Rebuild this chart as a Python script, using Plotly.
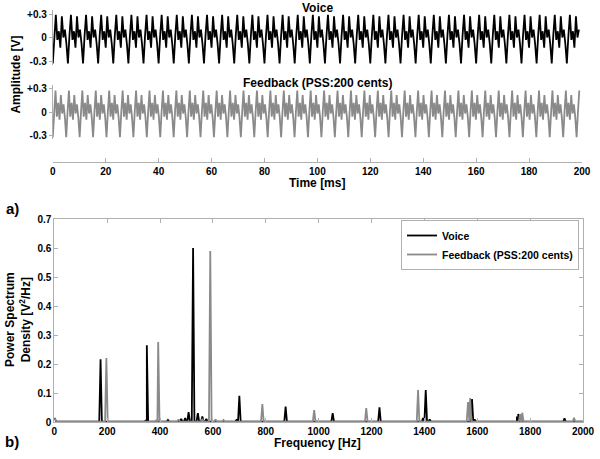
import numpy as np
import plotly.graph_objects as go

# One period of each waveform, read off panel a) (volts)
voice_period_ms = 5.714
voice_cycle = [-0.33, 0.02, 0.29, -0.03, 0.08, -0.13, 0.27, 0.0, 0.10, -0.08]
feedback_period_ms = 5.076
feedback_cycle = [-0.33, 0.0, 0.28, -0.06, 0.12, -0.10, 0.22, -0.02, 0.10, -0.07]
duration_ms = 199.0

# Spectral peaks read off panel b)
voice_peak_hz = [175, 350, 525, 700, 875, 1053, 1230, 1405, 1580, 1755, 1930]
voice_peak_psd = [0.217, 0.266, 0.601, 0.091, 0.054, 0.032, 0.052, 0.111, 0.080, 0.029, 0.014]
voice_minor_hz = [345, 430, 480, 495, 508, 543, 560, 575, 690, 1395, 1420, 1590, 1750]
voice_minor_psd = [0.008, 0.008, 0.012, 0.015, 0.035, 0.032, 0.020, 0.012, 0.010, 0.015, 0.010, 0.010, 0.020]
feedback_peak_hz = [197, 393, 590, 787, 983, 1180, 1376, 1573, 1770, 1966]
feedback_peak_psd = [0.222, 0.277, 0.591, 0.063, 0.042, 0.049, 0.111, 0.084, 0.033, 0.016]
feedback_minor_hz = [385, 470, 560, 610, 640, 1565, 1762]
feedback_minor_psd = [0.006, 0.010, 0.012, 0.010, 0.008, 0.070, 0.028]

freq_ticks = list(range(0, 2001, 200))
time_ticks = list(range(0, 201, 20))
psd_ticks = [0, 0.1, 0.2, 0.3, 0.4, 0.5, 0.6, 0.7]


def tile_wave(cycle, period):
    step = period / len(cycle)
    n = int(duration_ms / step) + 1
    t = np.arange(n) * step
    v = np.tile(cycle, n // len(cycle) + 1)[:n]
    return t, v


def spectrum(hz, psd, minor_hz, minor_psd, floor=0.002, hw=5):
    pts = [(0, 0.015), (8, floor), (2000, floor)]
    for f, p in zip(list(hz) + list(minor_hz), list(psd) + list(minor_psd)):
        pts += [(f - hw, floor), (f, p), (f + hw, floor)]
    pts.sort()
    return [p[0] for p in pts], [p[1] for p in pts]


FONT = "Liberation Sans, Arial, sans-serif"
GRAY = "#8a8a8a"
AX = "#b0b0b0"

tv, vv = tile_wave(voice_cycle, voice_period_ms)
tf, vf = tile_wave(feedback_cycle, feedback_period_ms)
sx_v, sy_v = spectrum(voice_peak_hz, voice_peak_psd, voice_minor_hz, voice_minor_psd)
sx_f, sy_f = spectrum(feedback_peak_hz, feedback_peak_psd, feedback_minor_hz, feedback_minor_psd)

fig = go.Figure()
fig.add_trace(go.Scatter(x=tv, y=vv, mode="lines", line=dict(color="black", width=1.8),
                         xaxis="x", yaxis="y", showlegend=False))
fig.add_trace(go.Scatter(x=tf, y=vf, mode="lines", line=dict(color=GRAY, width=1.8),
                         xaxis="x", yaxis="y2", showlegend=False))
fig.add_trace(go.Scatter(x=sx_v, y=sy_v, mode="lines", name="Voice",
                         line=dict(color="black", width=1.8), xaxis="x2", yaxis="y3"))
fig.add_trace(go.Scatter(x=sx_f, y=sy_f, mode="lines", name="Feedback (PSS:200 cents)",
                         line=dict(color=GRAY, width=1.8), xaxis="x2", yaxis="y3"))

H = 459.0
def py(px):
    return 1 - px / H

tickfont = dict(family=FONT, size=10, color="black", weight="bold")
fig.update_layout(
    width=600, height=459,
    margin=dict(l=0, r=0, t=0, b=0, autoexpand=False),
    paper_bgcolor="white", plot_bgcolor="white",
    font=dict(family=FONT, color="black"),
    xaxis=dict(domain=[0.088, 0.970], range=[0, 200], anchor="free", position=py(162),
               tickvals=time_ticks, ticks="inside", ticklen=4, tickcolor=AX,
               showline=True, linecolor=AX, linewidth=1, showgrid=False, zeroline=False,
               tickfont=tickfont),
    yaxis=dict(domain=[py(65), py(10)], range=[-0.351, 0.351], anchor="x",
               tickvals=[-0.3, 0, 0.3], ticktext=["-0.3", "0", "+0.3"],
               ticks="outside", ticklen=3, tickcolor=AX, showline=True, linecolor=AX,
               showgrid=False, zeroline=False, tickfont=tickfont),
    yaxis2=dict(domain=[py(139), py(85)], range=[-0.352, 0.352], anchor="x",
                tickvals=[-0.3, 0, 0.3], ticktext=["-0.3", "0", "+0.3"],
                ticks="outside", ticklen=3, tickcolor=AX, showline=True, linecolor=AX,
                showgrid=False, zeroline=False, tickfont=tickfont),
    xaxis2=dict(domain=[0.0905, 0.9717], range=[0, 2000], anchor="y3",
                tickvals=freq_ticks, ticks="inside", ticklen=4, tickcolor=AX,
                showline=True, mirror="ticks", linecolor=AX, linewidth=1,
                showgrid=False, zeroline=False, tickfont=tickfont),
    yaxis3=dict(domain=[py(422.3), py(219.3)], range=[0, 0.7], anchor="x2",
                tickvals=psd_ticks, ticks="inside", ticklen=4, tickcolor=AX,
                showline=True, mirror="ticks", linecolor=AX, linewidth=1,
                showgrid=False, zeroline=False, tickfont=tickfont),
    legend=dict(x=0.965, y=py(220), xanchor="right", yanchor="top",
                bgcolor="white", bordercolor=AX, borderwidth=1,
                font=dict(family=FONT, size=10.5, color="black", weight="bold"),
                tracegroupgap=0, itemwidth=30),
)

lab = dict(family=FONT, size=12, color="black", weight="bold")
ann = [
    dict(text="Voice", x=0.529, y=py(8), font=lab),
    dict(text="Feedback (PSS:200 cents)", x=0.529, y=py(83), font=lab),
    dict(text="Time [ms]", x=0.529, y=py(183), font=lab),
    dict(text="Frequency [Hz]", x=0.529, y=py(443), font=lab),
    dict(text="Amplitude [V]", x=0.026, y=py(75), font=lab, textangle=-90),
    dict(text="Power Spectrum<br>Density [V<sup>2</sup>/Hz]", x=0.030, y=py(320), font=lab, textangle=-90),
    dict(text="a)", x=0.020, y=py(208), font=dict(family=FONT, size=15, color="black", weight="bold")),
    dict(text="b)", x=0.020, y=py(441), font=dict(family=FONT, size=15, color="black", weight="bold")),
]
for a in ann:
    fig.add_annotation(xref="paper", yref="paper", showarrow=False, xanchor="center", yanchor="middle", **a)

# browser default body margin would shift the chart by 8px
fig.write_html("out.html", config={"displayModeBar": False},
               post_script="document.body.style.margin='0';")
